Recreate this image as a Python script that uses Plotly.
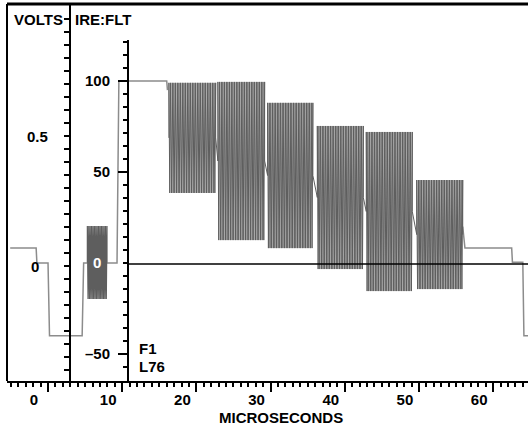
import plotly.graph_objects as go

NEGRO = "#000000"
TRAZO = "#8c8c8c"
PAQUETE = "#5e5e5e"
FUENTE = "Liberation Sans, Arial, sans-serif"

# ---- waveform pieces (time in microseconds, level in IRE) ----
lead_t = [-5.1, -1.6, -1.5, 0.0, 0.2, 4.6, 4.8, 5.3]
lead_ire = [8.2, 8.2, 0.0, 0.0, -40.0, -40.0, 0.0, 0.0]

burst_t = [5.3, 7.95]
burst_ire = [20.3, -19.8]
burst_cycles = 14

flag_t = [7.95, 9.3, 9.55, 16.0, 16.1]
flag_ire = [0.0, 0.0, 100.0, 100.0, 95.0]

pkt_start = [16.3, 22.9, 29.6, 36.3, 42.9, 49.7]
pkt_end = [22.6, 29.2, 35.7, 42.5, 49.1, 55.9]
pkt_top = [99.0, 99.5, 88.0, 75.3, 72.0, 45.6]
pkt_bot = [38.5, 12.6, 8.2, -3.3, -15.4, -14.3]
pkt_cycles = [28, 28, 28, 28, 28, 28]

tail_t = [55.9, 56.2, 62.5, 62.6, 64.0, 64.15, 64.9]
tail_ire = [20.0, 8.2, 8.2, 0.5, 0.5, -40.0, -40.0]

# ---- graticule ----
x_rango = [-5.53, 64.7]
ire_rango = [-64.8, 142.3]
volt_rango = [-0.442, 1.008]
x_labels = [0, 10, 20, 30, 40, 50, 60]
volt_labels = ["0.5", "0"]
volt_label_vals = [0.5, 0.0]

ANCHO, ALTO = 528, 427
ML, MR, MT, MB = 7, 0, 4, 46
PW, PH = ANCHO - ML - MR, ALTO - MT - MB


def px_x(p):
    return (p - ML) / PW


def px_y(p):
    return (ALTO - MB - p) / PH


def us_to_paper(t):
    return (t - x_rango[0]) / (x_rango[1] - x_rango[0])


def zigzag(t0, t1, hi, lo, n):
    mid = (hi + lo) / 2
    xs, ys = [t0], [mid]
    for i in range(2 * n + 1):
        xs.append(t0 + (t1 - t0) * i / (2 * n))
        ys.append(hi if i % 2 == 0 else lo)
    xs.append(t1)
    ys.append(mid)
    return xs, ys


fig = go.Figure()

# thin parts of the line
for tx, ty in [(lead_t, lead_ire), (flag_t, flag_ire), (tail_t, tail_ire)]:
    fig.add_trace(go.Scatter(x=tx, y=ty, mode="lines",
                             line=dict(color=TRAZO, width=1.5),
                             showlegend=False, hoverinfo="skip"))

# colour burst
bx, by = zigzag(burst_t[0], burst_t[1], burst_ire[0], burst_ire[1], burst_cycles)
fig.add_trace(go.Scatter(x=bx, y=by, mode="lines",
                         line=dict(color=PAQUETE, width=1.2),
                         showlegend=False, hoverinfo="skip"))

# multiburst packets
px_all, py_all = [], []
for a, b, hi, lo, n in zip(pkt_start, pkt_end, pkt_top, pkt_bot, pkt_cycles):
    zx, zy = zigzag(a, b, hi, lo, n)
    px_all += zx
    py_all += zy
fig.add_trace(go.Scatter(x=px_all, y=py_all, mode="lines",
                         line=dict(color=PAQUETE, width=1.0),
                         showlegend=False, hoverinfo="skip"))

# volts scale uses y2
fig.add_trace(go.Scatter(x=[None], y=[None], yaxis="y2", showlegend=False))

ire_axis_us = 10.78
volt_axis_us = 2.96
ire_step = 50 / 7
ire_minor = [100 - k * ire_step for k in range(-3, 23)]
ire_major = [100, 50, -3 * ire_step, -50]
ire_major_txt = ["100", "50", "", "\u201350"]
volt_minor = [round(-0.4 + 0.05 * k, 2) for k in range(28)]

tick_font = dict(family=FUENTE, size=15, color=NEGRO, weight="bold")

fig.update_layout(
    width=ANCHO, height=ALTO,
    margin=dict(l=ML, r=MR, t=MT, b=MB),
    plot_bgcolor="#FFFFFF", paper_bgcolor="#FFFFFF",
    font=dict(family=FUENTE, color=NEGRO, size=15),
    xaxis=dict(
        range=x_rango, showgrid=False, zeroline=False,
        showline=True, linecolor=NEGRO, linewidth=2,
        tickmode="array", tickvals=x_labels, ticktext=[str(v) for v in x_labels],
        ticks="outside", ticklen=9, tickwidth=2, tickcolor=NEGRO,
        ticklabelshift=-14, ticklabelstandoff=-5, tickfont=tick_font,
        minor=dict(dtick=1, tick0=0, ticks="outside", ticklen=4,
                   tickwidth=1.5, tickcolor=NEGRO),
    ),
    yaxis=dict(
        range=ire_rango, showgrid=False, zeroline=False, showline=False,
        anchor="free", position=us_to_paper(ire_axis_us),
        tickmode="array", tickvals=ire_major, ticktext=ire_major_txt,
        ticks="outside", ticklen=10, tickwidth=2, tickcolor=NEGRO,
        tickfont=tick_font, ticklabelstandoff=5,
        minor=dict(tickmode="array", tickvals=ire_minor, ticks="outside",
                   ticklen=5, tickwidth=1.5, tickcolor=NEGRO),
    ),
    yaxis2=dict(
        range=volt_rango, overlaying="y", anchor="free",
        position=us_to_paper(volt_axis_us), side="left",
        showgrid=False, zeroline=False,
        showline=True, linecolor=NEGRO, linewidth=2,
        tickmode="array", tickvals=volt_label_vals, ticktext=["", ""],
        ticks="outside", ticklen=10, tickwidth=2, tickcolor=NEGRO,
        minor=dict(tickmode="array", tickvals=volt_minor, ticks="outside",
                   ticklen=5, tickwidth=1.5, tickcolor=NEGRO),
    ),
)

# frame + IRE axis line + 0 IRE reference
fig.add_shape(type="line", xref="paper", yref="paper", x0=0, x1=1, y0=1, y1=1,
              line=dict(color=NEGRO, width=3))
fig.add_shape(type="line", xref="paper", yref="paper", x0=0, x1=0, y0=0, y1=1,
              line=dict(color=NEGRO, width=2))
fig.add_shape(type="line", xref="x", yref="y", x0=ire_axis_us, x1=ire_axis_us,
              y0=ire_rango[0], y1=122.5, line=dict(color=NEGRO, width=2))
fig.add_shape(type="line", xref="x", yref="y", x0=ire_axis_us, x1=x_rango[1],
              y0=-0.5, y1=-0.5, line=dict(color=NEGRO, width=1.5), layer="above")

bold = dict(family=FUENTE, size=15, color=NEGRO, weight="bold")

for txt, v, cx in zip(volt_labels, volt_label_vals, [37, 35]):
    fig.add_annotation(text=txt, xref="paper", yref="y2", x=px_x(cx), y=v,
                       xanchor="center", yanchor="middle", showarrow=False, font=bold)

fig.add_annotation(text="0", xref="paper", yref="y", x=px_x(97), y=0.5,
                   xanchor="center", yanchor="middle", showarrow=False,
                   font=dict(family=FUENTE, size=15, color="#FFFFFF", weight="bold"))

for txt, lx, cy in [("VOLTS", 12, 20), ("IRE:FLT", 73, 20), ("F1", 137, 348), ("L76", 137, 366)]:
    fig.add_annotation(text=txt, xref="paper", yref="paper", x=px_x(lx), y=px_y(cy),
                       xanchor="left", yanchor="middle", showarrow=False, font=bold)

fig.add_annotation(text="MICROSECONDS", xref="paper", yref="paper",
                   x=px_x(281), y=px_y(417), xanchor="center", yanchor="middle",
                   showarrow=False, font=bold)

fig.write_html("out.html", config={"displayModeBar": False},
               post_script="document.body.style.margin='0';document.body.style.padding='0';")
